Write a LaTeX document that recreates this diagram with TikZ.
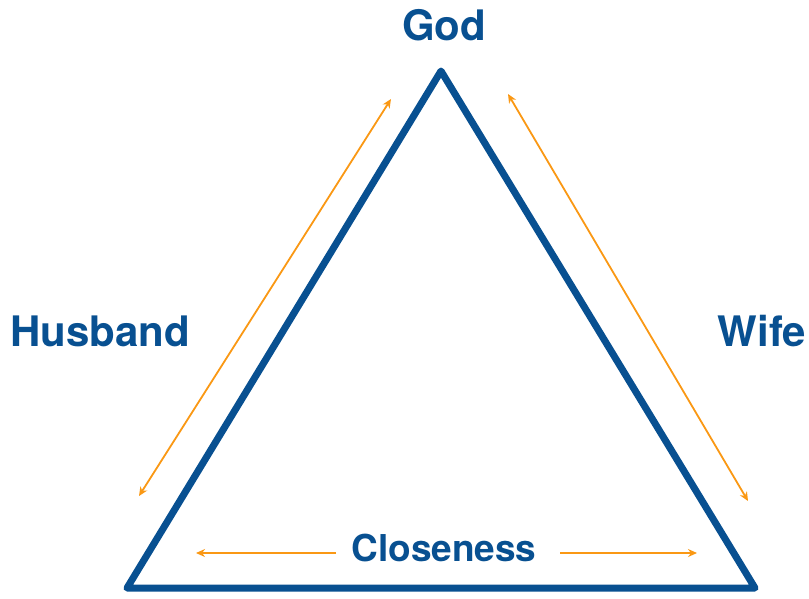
\documentclass[tikz,border=0pt]{standalone}
\usepackage{fontspec}
\setmainfont{TeX Gyre Heros}
\usetikzlibrary{arrows.meta}
\definecolor{tblue}{RGB}{8,80,145}
\definecolor{torange}{RGB}{250,152,20}
\begin{document}
\begin{tikzpicture}[x=1pt,y=-1pt,
  lbl/.style={text=tblue,font=\fontsize{42}{48}\selectfont\bfseries,inner sep=0pt},
  clbl/.style={text=tblue,font=\fontsize{37}{42}\selectfont\bfseries,inner sep=0pt},
  tri/.style={draw=tblue,line width=7pt,line join=round},
  arr/.style={draw=torange,line width=2pt,-{Stealth[length=9pt,width=8pt]}},
  darr/.style={draw=torange,line width=1.8pt,{Stealth[length=9pt,width=8pt]}-{Stealth[length=9pt,width=8pt]}}]
\useasboundingbox (0,0) rectangle (809,598);
\coordinate (top) at (441,71);
\coordinate (bl) at (127,588);
\coordinate (br) at (755,588);
\draw[tri] (top) -- (bl) -- (br) -- cycle;
\node[lbl] (god) at (444,25) {God};
\node[lbl] (husband) at (100,331) {Husband};
\node[lbl] (wife) at (762,331) {Wife};
\node[clbl] (close) at (444,548) {Closeness};
\coordinate (la) at (391,99);
\coordinate (lb) at (139,496);
\coordinate (ra) at (508,94);
\coordinate (rb) at (748,501);
\draw[darr] (la) -- (lb);
\draw[darr] (ra) -- (rb);
\coordinate (bla) at (336,553);
\coordinate (blb) at (196,553);
\coordinate (bra) at (560,553);
\coordinate (brb) at (697,553);
\draw[arr] (bla) -- (blb);
\draw[arr] (bra) -- (brb);
\end{tikzpicture}
\end{document}
